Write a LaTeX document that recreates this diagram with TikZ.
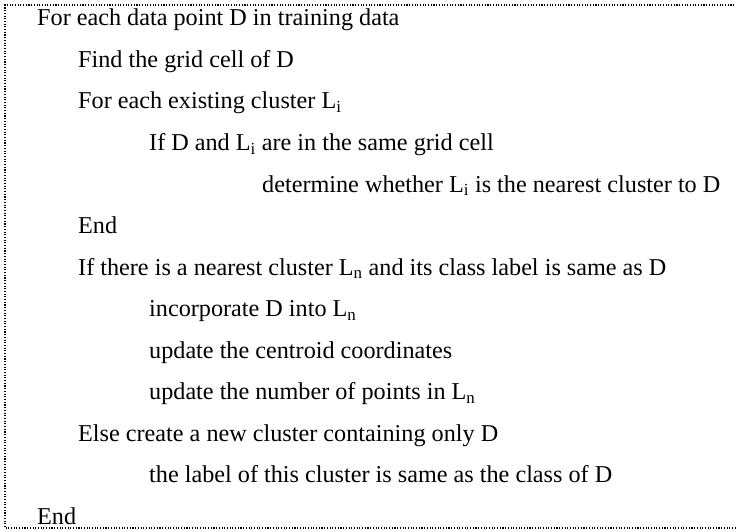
\documentclass[tikz,border=0pt]{standalone}
\usepackage{fontspec}
\setmainfont{Liberation Serif}
\begin{document}
\begin{tikzpicture}[x=1pt,y=-1pt,
  codeline/.style={anchor=base west,inner sep=0pt,font=\fontsize{24.2}{28}\selectfont},
  frame/.style={line width=1.3pt,dash pattern=on 1.1pt off 1.6pt}]
\useasboundingbox (0,0) rectangle (736,532);
\clip (0,0) rectangle (736,532);
\draw[frame] (745,5) -- (5,5) -- (5,528) -- (745,528);
\node[codeline] (l0) at (37,26) {For each data point D in training data};
\node[codeline] (l1) at (78,67.5) {Find the grid cell of D};
\node[codeline] (l2) at (78,109) {For each existing cluster L\textsubscript{i}};
\node[codeline] (l3) at (149,150.5) {If D and L\textsubscript{i} are in the same grid cell};
\node[codeline] (l4) at (262,192) {determine whether L\textsubscript{i} is the nearest cluster to D};
\node[codeline] (l5) at (78,233.5) {End};
\node[codeline] (l6) at (78,275) {If there is a nearest cluster L\textsubscript{n} and its class label is same as D};
\node[codeline] (l7) at (149,316.5) {incorporate D into L\textsubscript{n}};
\node[codeline] (l8) at (149,358) {update the centroid coordinates};
\node[codeline] (l9) at (149,399.5) {update the number of points in L\textsubscript{n}};
\node[codeline] (l10) at (78,441) {Else create a new cluster containing only D};
\node[codeline] (l11) at (149,482.5) {the label of this cluster is same as the class of D};
\node[codeline] (l12) at (37,524) {End};
\end{tikzpicture}
\end{document}
